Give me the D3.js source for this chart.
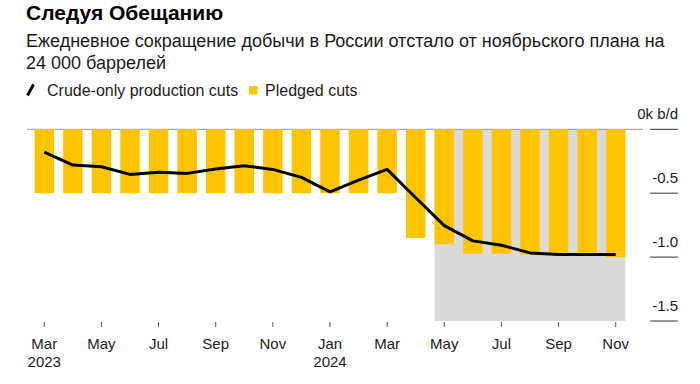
<!DOCTYPE html>
<html>
<head>
<meta charset="utf-8">
<script src="https://cdn.jsdelivr.net/npm/d3@7"></script>
<style>
  body { margin: 0; background: #fff; }
  svg { font-family: "Liberation Sans", Arial, sans-serif; }
</style>
</head>
<body>
<svg width="700" height="384"></svg>
<script>
const svg = d3.select("svg");

// monthly data, Mar 2023 - Nov 2024 (million b/d)
const months = ["2023-03","2023-04","2023-05","2023-06","2023-07","2023-08","2023-09","2023-10","2023-11","2023-12",
  "2024-01","2024-02","2024-03","2024-04","2024-05","2024-06","2024-07","2024-08","2024-09","2024-10","2024-11"];
const pledged = [-0.5,-0.5,-0.5,-0.5,-0.5,-0.5,-0.5,-0.5,-0.5,-0.5,
  -0.5,-0.5,-0.5,-0.85,-0.9,-0.975,-0.975,-0.98,-0.98,-0.98,-1.0];
const crude = [-0.178,-0.28,-0.293,-0.353,-0.337,-0.345,-0.311,-0.285,-0.314,-0.376,
  -0.489,-0.397,-0.314,-0.536,-0.754,-0.873,-0.907,-0.967,-0.98,-0.98,-0.98];
const shadeFrom = "2024-05", shadeTo = "2024-11", shadeValue = -1.5;
const yTicks = [0, -0.5, -1.0, -1.5];
const yTickLabels = ["0k b/d", "-0.5", "-1.0", "-1.5"];
const xTickMonths = ["2023-03","2023-05","2023-07","2023-09","2023-11","2024-01","2024-03","2024-05","2024-07","2024-09","2024-11"];
const xTickLabels = ["Mar","May","Jul","Sep","Nov","Jan","Mar","May","Jul","Sep","Nov"];
const yearLabels = {"2023-03": "2023", "2024-01": "2024"};

const yellow = "#ffc400";

const x = d3.scaleBand().domain(months).range([30, 630]).paddingInner(0.32).paddingOuter(0.16);
const y = d3.scaleLinear().domain([0, -1.5]).range([129.3, 321]);

// title
svg.append("text").attr("x", 26).attr("y", 20)
  .attr("font-size", 21).attr("font-weight", "bold").attr("fill", "#000")
  .text("Следуя Обещанию");
svg.append("text").attr("x", 26).attr("y", 46.5)
  .attr("font-size", 18).attr("fill", "#1a1a1a")
  .text("Ежедневное сокращение добычи в России отстало от ноябрьского плана на");
svg.append("text").attr("x", 26).attr("y", 68.5)
  .attr("font-size", 18).attr("fill", "#1a1a1a")
  .text("24 000 баррелей");

// legend
const legend = svg.append("g");
legend.append("line").attr("x1", 27.5).attr("y1", 95.5).attr("x2", 33.5).attr("y2", 84.5)
  .attr("stroke", "#000").attr("stroke-width", 2.8);
legend.append("text").attr("x", 47).attr("y", 95.5).attr("font-size", 16).attr("fill", "#1a1a1a")
  .text("Crude-only production cuts");
legend.append("rect").attr("x", 249).attr("y", 86).attr("width", 8.5).attr("height", 8.5).attr("fill", yellow);
legend.append("text").attr("x", 265).attr("y", 95.5).attr("font-size", 16).attr("fill", "#1a1a1a")
  .text("Pledged cuts");

// shaded area
svg.append("rect")
  .attr("x", x(shadeFrom))
  .attr("y", y(0))
  .attr("width", x(shadeTo) + x.bandwidth() - x(shadeFrom))
  .attr("height", y(shadeValue) - y(0))
  .attr("fill", "#dadada");

// zero line
svg.append("line").attr("x1", 27).attr("x2", 643).attr("y1", y(0)).attr("y2", y(0))
  .attr("stroke", "#999").attr("stroke-width", 1);

// bars
svg.append("g").selectAll("rect")
  .data(months)
  .join("rect")
  .attr("x", d => x(d))
  .attr("y", y(0))
  .attr("width", x.bandwidth())
  .attr("height", (d, i) => y(pledged[i]) - y(0))
  .attr("fill", yellow);

// line
const line = d3.line()
  .x((d, i) => x(months[i]) + x.bandwidth() / 2)
  .y(d => y(d));
svg.append("path").datum(crude)
  .attr("d", line)
  .attr("fill", "none").attr("stroke", "#000").attr("stroke-width", 3)
  .attr("stroke-linejoin", "round");

// right axis
const yAxis = svg.append("g");
yAxis.selectAll("line").data(yTicks).join("line")
  .attr("x1", 650).attr("x2", 678)
  .attr("y1", d => y(d)).attr("y2", d => y(d))
  .attr("stroke", "#333").attr("stroke-width", 1);
yAxis.selectAll("text").data(yTicks).join("text")
  .attr("x", 678).attr("y", d => y(d) - 10)
  .attr("text-anchor", "end").attr("font-size", 15).attr("fill", "#222")
  .text((d, i) => yTickLabels[i]);

// bottom axis
const xAxis = svg.append("g");
xAxis.selectAll("line").data(xTickMonths).join("line")
  .attr("x1", d => x(d) + x.bandwidth() / 2).attr("x2", d => x(d) + x.bandwidth() / 2)
  .attr("y1", 322).attr("y2", 327)
  .attr("stroke", "#555").attr("stroke-width", 1);
xAxis.selectAll("text.m").data(xTickMonths).join("text")
  .attr("class", "m")
  .attr("x", d => x(d) + x.bandwidth() / 2).attr("y", 348.5)
  .attr("text-anchor", "middle").attr("font-size", 15).attr("fill", "#222")
  .text((d, i) => xTickLabels[i]);
xAxis.selectAll("text.yr").data(Object.keys(yearLabels)).join("text")
  .attr("class", "yr")
  .attr("x", d => x(d) + x.bandwidth() / 2).attr("y", 367)
  .attr("text-anchor", "middle").attr("font-size", 15).attr("fill", "#222")
  .text(d => yearLabels[d]);
</script>
</body>
</html>
